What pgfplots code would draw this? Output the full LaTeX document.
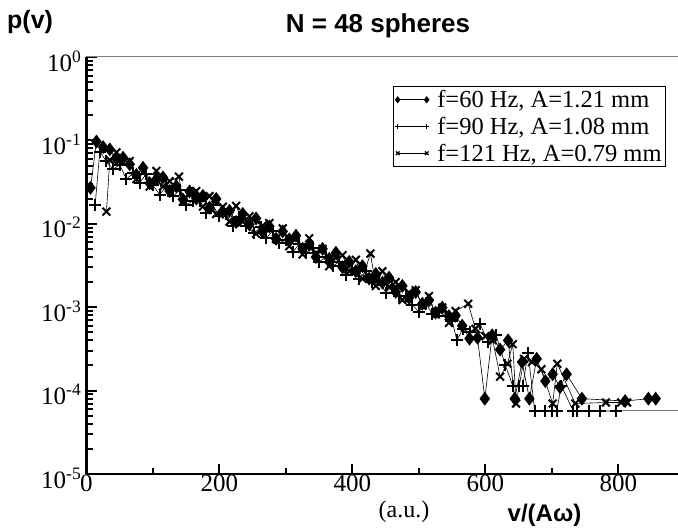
\documentclass[border=0pt]{standalone}
\usepackage{fontspec}
\setmainfont{Liberation Serif}
\newfontfamily\arialfont{Liberation Sans}
\usepackage{pgfplots}
\pgfplotsset{compat=1.18}

\begin{document}
\begin{tikzpicture}
\begin{axis}[
    at={(0pt,0pt)}, anchor=south west,
    scale only axis, width=591.5pt, height=417pt,
    ymode=log,
    xmin=0, xmax=889.5,
    ymin=1e-5, ymax=1,
    axis lines=left,
    axis line style={-},
    x axis line style={line width=2pt},
    y axis line style={line width=3pt},
    tick align=inside,
    tick style={black, line width=2pt},
    major tick length=10pt,
    minor tick length=6pt,
    xtick={0,200,400,600,800},
    xticklabels={0,200,400,600,800},
    minor xtick={100,300,500,700},
    ytick={1e-5,1e-4,1e-3,1e-2,1e-1,1},
    yticklabels={10\textsuperscript{-5},10\textsuperscript{-4},10\textsuperscript{-3},10\textsuperscript{-2},10\textsuperscript{-1},10\textsuperscript{0}},
    xticklabel style={font=\fontsize{25}{25}\selectfont, inner sep=1pt},
    yticklabel style={font=\fontsize{25}{25}\selectfont, inner sep=1pt, yshift=-4pt, xshift=-4pt},
    legend style={
        at={(rel axis cs:0.9797,0.9305)}, anchor=north east,
        draw=black, line width=0.8pt,
        font=\fontsize{24.5}{27}\selectfont,
        inner sep=2pt, row sep=4pt, column sep=6pt,
        cells={anchor=west},
    },
    legend image code/.code={
        \draw[#1, mark size=2.6pt, mark options={line width=1.3pt}]
            plot coordinates {(0pt,0pt) (29pt,0pt)};
    },
]
\draw[gray, line width=1pt] (rel axis cs:0,1) -- (rel axis cs:1,1);

% f = 60 Hz
\addplot[black, line width=0.6pt, mark=diamond*, mark size=5.5pt,
    mark options={solid, fill=black, line width=1.8pt}] coordinates {
(6,0.027) (15,0.097) (25,0.083) (35,0.078) (45,0.060) (55,0.062)
(65,0.0516) (75,0.0385) (85,0.047) (95,0.0307) (105,0.0342) (115,0.036)
(125,0.0247) (135,0.0282) (145,0.0196) (155,0.0244) (165,0.0201) (175,0.0216)
(185,0.0156) (195,0.0199) (205,0.0138) (215,0.0143) (225,0.0105) (235,0.0131)
(245,0.0098) (255,0.0116) (265,0.0080) (275,0.0093) (285,0.0066) (295,0.0081)
(305,0.0065) (315,0.0072) (325,0.0050) (335,0.0056) (345,0.0040) (355,0.0050)
(365,0.0038) (375,0.0045) (385,0.0030) (395,0.0035) (405,0.0027) (415,0.0031)
(425,0.0022) (435,0.0025) (445,0.00197) (455,0.00226) (465,0.00153) (475,0.0018)
(485,0.0013) (495,0.00152) (505,0.0011) (515,0.00121) (525,0.00086) (535,0.00099)
(545,0.00078) (555,0.00079) (565,0.00060) (576,0.00042) (588,0.00043) (599,0.00008)
(610,0.00046) (622,0.00031) (634,0.00040) (644,0.00008) (655,0.00022) (666,0.00008)
(677,0.00024) (690,0.00013) (701,0.000157) (712,0.00011) (722,0.000157) (745,0.00008)
(810,0.000075) (845,0.00008) (856,0.00008)
};
\addlegendentry{f=60 Hz, A=1.21 mm}

% f = 90 Hz
\addplot[black, line width=0.6pt, mark=+, mark size=6pt,
    mark options={solid, line width=2pt}] coordinates {
(13,0.0168) (20,0.073) (30,0.056) (40,0.045) (50,0.051) (60,0.0341)
(70,0.0408) (80,0.0312) (90,0.0396) (100,0.029) (110,0.0223) (120,0.0285)
(130,0.0213) (140,0.0254) (150,0.0169) (160,0.0188) (170,0.0186) (180,0.0136)
(190,0.0166) (200,0.0124) (210,0.0132) (220,0.0094) (230,0.0120) (240,0.0094)
(252,0.0077) (262,0.0092) (270,0.0067) (280,0.0082) (290,0.0059) (300,0.0064)
(310,0.0046) (320,0.0057) (330,0.0045) (340,0.0051) (350,0.0035) (360,0.0040)
(370,0.0031) (380,0.0035) (390,0.0024) (400,0.0028) (410,0.0022) (420,0.0027)
(430,0.0020) (440,0.0021) (450,0.0015) (460,0.0018) (470,0.00135) (480,0.00135)
(490,0.00106) (500,0.00088) (510,0.00113) (520,0.00083) (530,0.00089) (540,0.00078)
(550,0.00068) (557,0.00040) (566,0.00055) (576,0.00050) (592,0.00063) (604,0.00038)
(616,0.00046) (630,0.00020) (641,0.000114) (650,0.000114) (656,0.000114) (664,0.000285)
(674,0.000057) (690,0.000057) (700,0.000057) (707,0.000057) (714,0.000114) (732,0.000057)
(737,0.000057) (755,0.000057) (772,0.000057) (797,0.000057)
};
\addlegendentry{f=90 Hz, A=1.08 mm}

% f = 121 Hz
\addplot[black, line width=0.6pt, mark=x, mark size=5.5pt,
    mark options={solid, line width=2pt}] coordinates {
(30,0.014) (35,0.058) (45,0.072) (55,0.055) (65,0.0566) (75,0.0344)
(85,0.042) (95,0.0279) (105,0.043) (115,0.028) (125,0.0324) (139,0.0367)
(145,0.0184) (155,0.0229) (165,0.0247) (175,0.0161) (185,0.0215) (195,0.0131)
(205,0.016) (215,0.0106) (225,0.0164) (235,0.0106) (245,0.0123) (255,0.0076)
(265,0.0095) (275,0.0102) (285,0.0066) (295,0.0088) (305,0.0054) (315,0.0066)
(325,0.0043) (335,0.0067) (345,0.0044) (355,0.0050) (365,0.0031) (375,0.0039)
(385,0.0042) (395,0.0027) (405,0.0037) (415,0.0022) (427,0.0044) (435,0.0018)
(445,0.0027) (455,0.00175) (465,0.0020) (475,0.00122) (485,0.0015) (495,0.0016)
(505,0.00104) (515,0.00136) (525,0.00082) (535,0.00099) (545,0.00065) (555,0.0009)
(574,0.0011) (585,0.00055) (600,0.00045) (611,0.00040) (622,0.000147) (633,0.00021)
(641,0.00036) (646,0.00007) (658,0.00024) (670,0.00022) (684,0.00018) (701,0.00007)
(708,0.00021) (735,0.00007) (781,0.000072) (804,0.000072) (813,0.000072)
};
\addlegendentry{f=121 Hz, A=0.79 mm}

\addplot[gray, line width=1pt, forget plot] coordinates {(797,0.000057) (889.5,0.000057)};
\end{axis}

\node[anchor=base west, inner sep=0pt] at (-79.5pt,445pt)
    {\arialfont\bfseries\fontsize{25}{25}\selectfont p(v)};
\node[anchor=base, inner sep=0pt] at (291.5pt,441pt)
    {\arialfont\bfseries\fontsize{26}{26}\selectfont N = 48 spheres};
\node[anchor=base, inner sep=0pt] at (317.5pt,-44pt)
    {\fontsize{24}{24}\selectfont (a.u.)};
\node[anchor=base, inner sep=0pt] at (458pt,-48pt)
    {\arialfont\bfseries\fontsize{24}{24}\selectfont v/(Aω)};

\pgfresetboundingbox
\path[use as bounding box] (-86.5pt,-56pt) rectangle (591.5pt,474pt);
\end{tikzpicture}
\end{document}
